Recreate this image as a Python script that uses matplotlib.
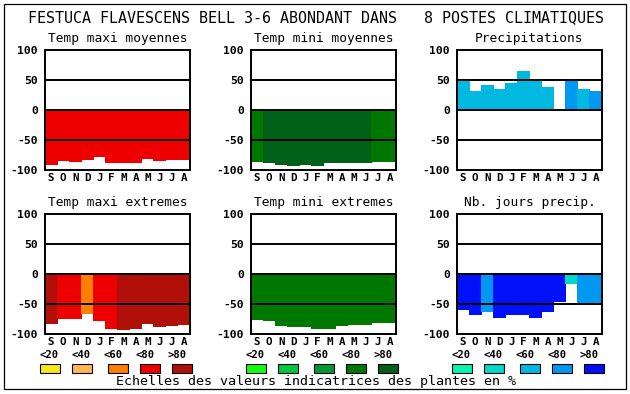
import numpy as np
import matplotlib
matplotlib.use('Agg')
import matplotlib.pyplot as plt
from matplotlib.patches import Rectangle

plt.rcParams['font.family'] = 'DejaVu Sans Mono'

W, H = 630, 394

months = ['S', 'O', 'N', 'D', 'J', 'F', 'M', 'A', 'M', 'J', 'J', 'A']
classes = ['<20', '<40', '<60', '<80', '>80']

# colour scales (5 classes each)
col_tmax = ['#f8e818', '#ffb850', '#ff8000', '#ee0000', '#b01008']
col_tmin = ['#10ff10', '#00c840', '#009830', '#007800', '#006018']
col_prec = ['#00f8b0', '#00d8c8', '#00b8e0', '#0098f0', '#0010f8']

# values, class index gives the colour
tmax_moy = [-91, -85, -86, -83, -78, -87, -88, -87, -81, -84, -82, -82]
tmax_moy_cls = [3, 3, 3, 3, 3, 3, 3, 3, 3, 3, 3, 3]
tmin_moy = [-86, -88, -91, -93, -91, -93, -88, -88, -88, -87, -86, -86]
tmin_moy_cls = [3, 4, 4, 4, 4, 4, 4, 4, 4, 4, 3, 3]
precip = [49, 31, 41, 34, 44, 64, 47, 37, 0, 47, 34, 31]
precip_cls = [2, 2, 2, 2, 2, 2, 2, 2, 2, 3, 2, 3]
tmax_ext = [-82, -74, -74, -66, -77, -91, -92, -91, -82, -87, -86, -84]
tmax_ext_cls = [4, 3, 3, 2, 3, 3, 4, 4, 4, 4, 4, 4]
tmin_ext = [-76, -77, -86, -87, -87, -91, -91, -86, -84, -84, -81, -81]
tmin_ext_cls = [3, 3, 3, 3, 3, 3, 3, 3, 3, 3, 3, 3]
jours = [-60, -67, -62, -72, -67, -67, -72, -62, -46, -16, -48, -48]
jours_cls = [4, 4, 3, 4, 4, 4, 4, 4, 4, 1, 3, 3]

panels = [
    ('Temp maxi moyennes', tmax_moy, tmax_moy_cls, col_tmax),
    ('Temp mini moyennes', tmin_moy, tmin_moy_cls, col_tmin),
    ('Precipitations', precip, precip_cls, col_prec),
    ('Temp maxi extremes', tmax_ext, tmax_ext_cls, col_tmax),
    ('Temp mini extremes', tmin_ext, tmin_ext_cls, col_tmin),
    ('Nb. jours precip.', jours, jours_cls, col_prec),
]

lefts = [45, 251, 457]
tops = [50, 214]
pw, ph = 145, 120

fig = plt.figure(figsize=(W / 100, H / 100), dpi=100)

# background overlay in pixel coordinates
bg = fig.add_axes([0, 0, 1, 1])
bg.set_xlim(0, W)
bg.set_ylim(H, 0)
bg.axis('off')
bg.add_patch(Rectangle((4, 4), 622, 385, fill=False, lw=0.9, ec='black'))
bg.text(316, 18, 'FESTUCA FLAVESCENS BELL 3-6 ABONDANT DANS   8 POSTES CLIMATIQUES',
        ha='center', va='center', fontsize=10.8)
bg.text(316, 381, 'Echelles des valeurs indicatrices des plantes en %',
        ha='center', va='center', fontsize=9.6)

for k, (title, vals, cls, cols) in enumerate(panels):
    left = lefts[k % 3]
    top = tops[k // 3]
    ax = fig.add_axes([left / W, 1 - (top + ph) / H, pw / W, ph / H])
    x = np.arange(len(vals))
    barcols = [cols[c] for c in cls]
    bars = ax.bar(x, vals, width=1.0, align='edge', color=barcols,
                  linewidth=0, antialiased=False, zorder=2)
    for b in bars:
        b.set_snap(False)
    for yv in [50, 0, -50]:
        ax.axhline(yv, color='black', lw=1.4, zorder=3)
    ax.set_xlim(0, 12)
    ax.set_ylim(-100, 100)
    ax.set_yticks([-100, -50, 0, 50, 100])
    ax.set_yticklabels(['-100', '-50', '0', '50', '100'], fontweight='bold', fontsize=8.2)
    ax.set_xticks(x + 0.5)
    ax.set_xticklabels(months, fontweight='bold', fontsize=7.8)
    ax.tick_params(length=0, pad=2.5)
    ax.tick_params(axis='y', pad=5)
    for s in ax.spines.values():
        s.set_linewidth(1.4)
        s.set_zorder(4)
    bg.text(left + pw / 2, top - 12, title, ha='center', va='center', fontsize=9.3)

    if k >= 3:
        for i, lab in enumerate(classes):
            bg.text(left + 4 + 32 * i, 355, lab, ha='center', va='center',
                    fontweight='bold', fontsize=7.6)
        sq_off = [-5, 27, 63, 95, 127]
        for i in range(5):
            bg.add_patch(Rectangle((left + sq_off[i], 364), 20, 9, fc=cols[i],
                                   ec='black', lw=0.8))

fig.savefig('out.png', dpi=100)
